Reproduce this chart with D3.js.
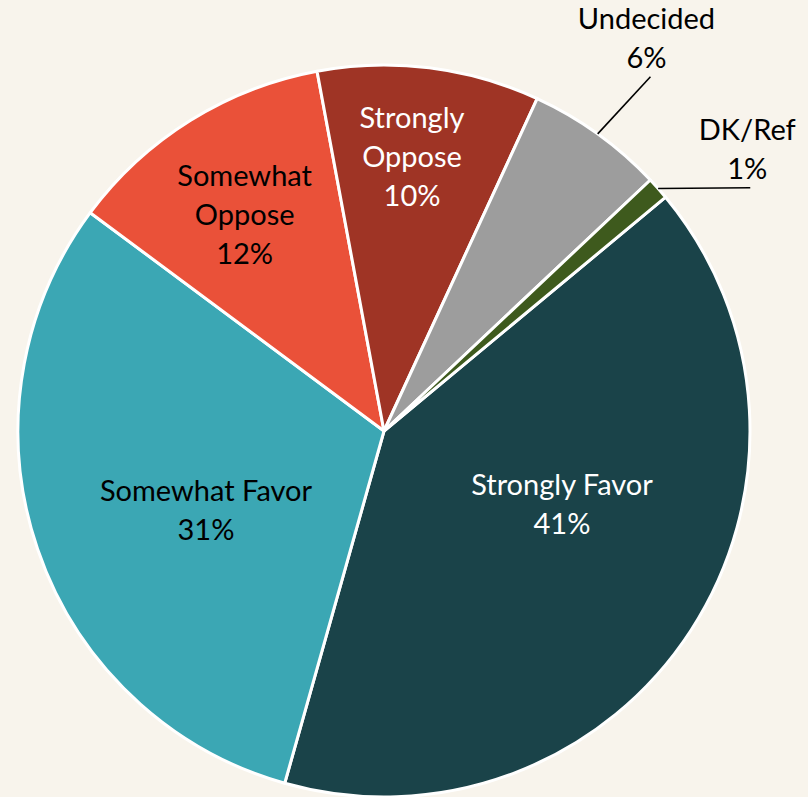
<!DOCTYPE html>
<html>
<head>
<meta charset="utf-8">
<script src="https://cdn.jsdelivr.net/npm/d3@7"></script>
<style>
  html, body { margin: 0; padding: 0; background: #f8f4ec; }
  svg { display: block; }
  text { font-family: Lato, "Open Sans", sans-serif; }
</style>
</head>
<body>
<svg id="chart"></svg>
<script>
// slice data, clockwise from the first slice
const categories = ["Strongly Favor", "Somewhat Favor", "Somewhat Oppose", "Strongly Oppose", "Undecided", "DK/Ref"];
const values = [40.4, 30.8, 11.9, 9.8, 6.1, 1.0];
const pctLabels = ["41%", "31%", "12%", "10%", "6%", "1%"];
const labelLines = [["Strongly Favor"], ["Somewhat Favor"], ["Somewhat", "Oppose"], ["Strongly", "Oppose"], ["Undecided"], ["DK/Ref"]];

const colors = ["#1a4349", "#3ba7b4", "#ea5139", "#9f3425", "#9d9d9d", "#3e5a1d"];
const textColors = ["#ffffff", "#000000", "#000000", "#ffffff", "#000000", "#000000"];

// label placement: angle nudge (deg) from slice middle, and distance from centre
const labelShift = [-11, -4.6, -0.6, -1.3, -2.1, 3.5];
const labelDist = [192, 194, 259, 277, 474, 461];
const outside = [false, false, false, false, true, true];

const width = 808, height = 797;
const cx = 384, cy = 431, radius = 366;
const lineH = 39, fontSize = 29;

const svg = d3.select("#chart")
  .attr("width", width)
  .attr("height", height);

svg.append("rect")
  .attr("width", width)
  .attr("height", height)
  .attr("fill", "#f8f4ec");

const g = svg.append("g")
  .attr("transform", `translate(${cx},${cy})`);

const startDeg = 50.3;
const pie = d3.pie()
  .sort(null)
  .value(d => d)
  .startAngle(startDeg * Math.PI / 180)
  .endAngle((startDeg + 360) * Math.PI / 180);

const arcs = pie(values);
const arc = d3.arc().innerRadius(0).outerRadius(radius);

g.selectAll("path.slice")
  .data(arcs)
  .enter()
  .append("path")
  .attr("class", "slice")
  .attr("d", arc)
  .attr("fill", (d, i) => colors[i])
  .attr("stroke", "#ffffff")
  .attr("stroke-width", 3)
  .attr("stroke-linejoin", "round");

// polar helper, angle measured clockwise from 12 o'clock
function polar(a, r) {
  return [Math.sin(a) * r, -Math.cos(a) * r];
}

arcs.forEach((d, i) => {
  const mid = (d.startAngle + d.endAngle) / 2;
  const a = mid + labelShift[i] * Math.PI / 180;
  const [lx, ly] = polar(a, labelDist[i]);
  const lines = labelLines[i].concat([pctLabels[i]]);
  const n = lines.length;

  const t = g.append("text")
    .attr("text-anchor", "middle")
    .attr("font-size", fontSize)
    .attr("fill", textColors[i]);

  lines.forEach((s, k) => {
    t.append("tspan")
      .attr("x", lx)
      .attr("y", ly + (k - (n - 1) / 2) * lineH + 12)
      .text(s);
  });

  if (outside[i]) {
    const [sx, sy] = polar(mid, radius);
    const bottom = ly + ((n - 1) / 2) * lineH + 21;
    g.append("line")
      .attr("x1", sx)
      .attr("y1", sy)
      .attr("x2", lx + (i === 5 ? 3 : 4))
      .attr("y2", bottom)
      .attr("stroke", "#000000")
      .attr("stroke-width", 1.6);
  }
});
</script>
</body>
</html>
